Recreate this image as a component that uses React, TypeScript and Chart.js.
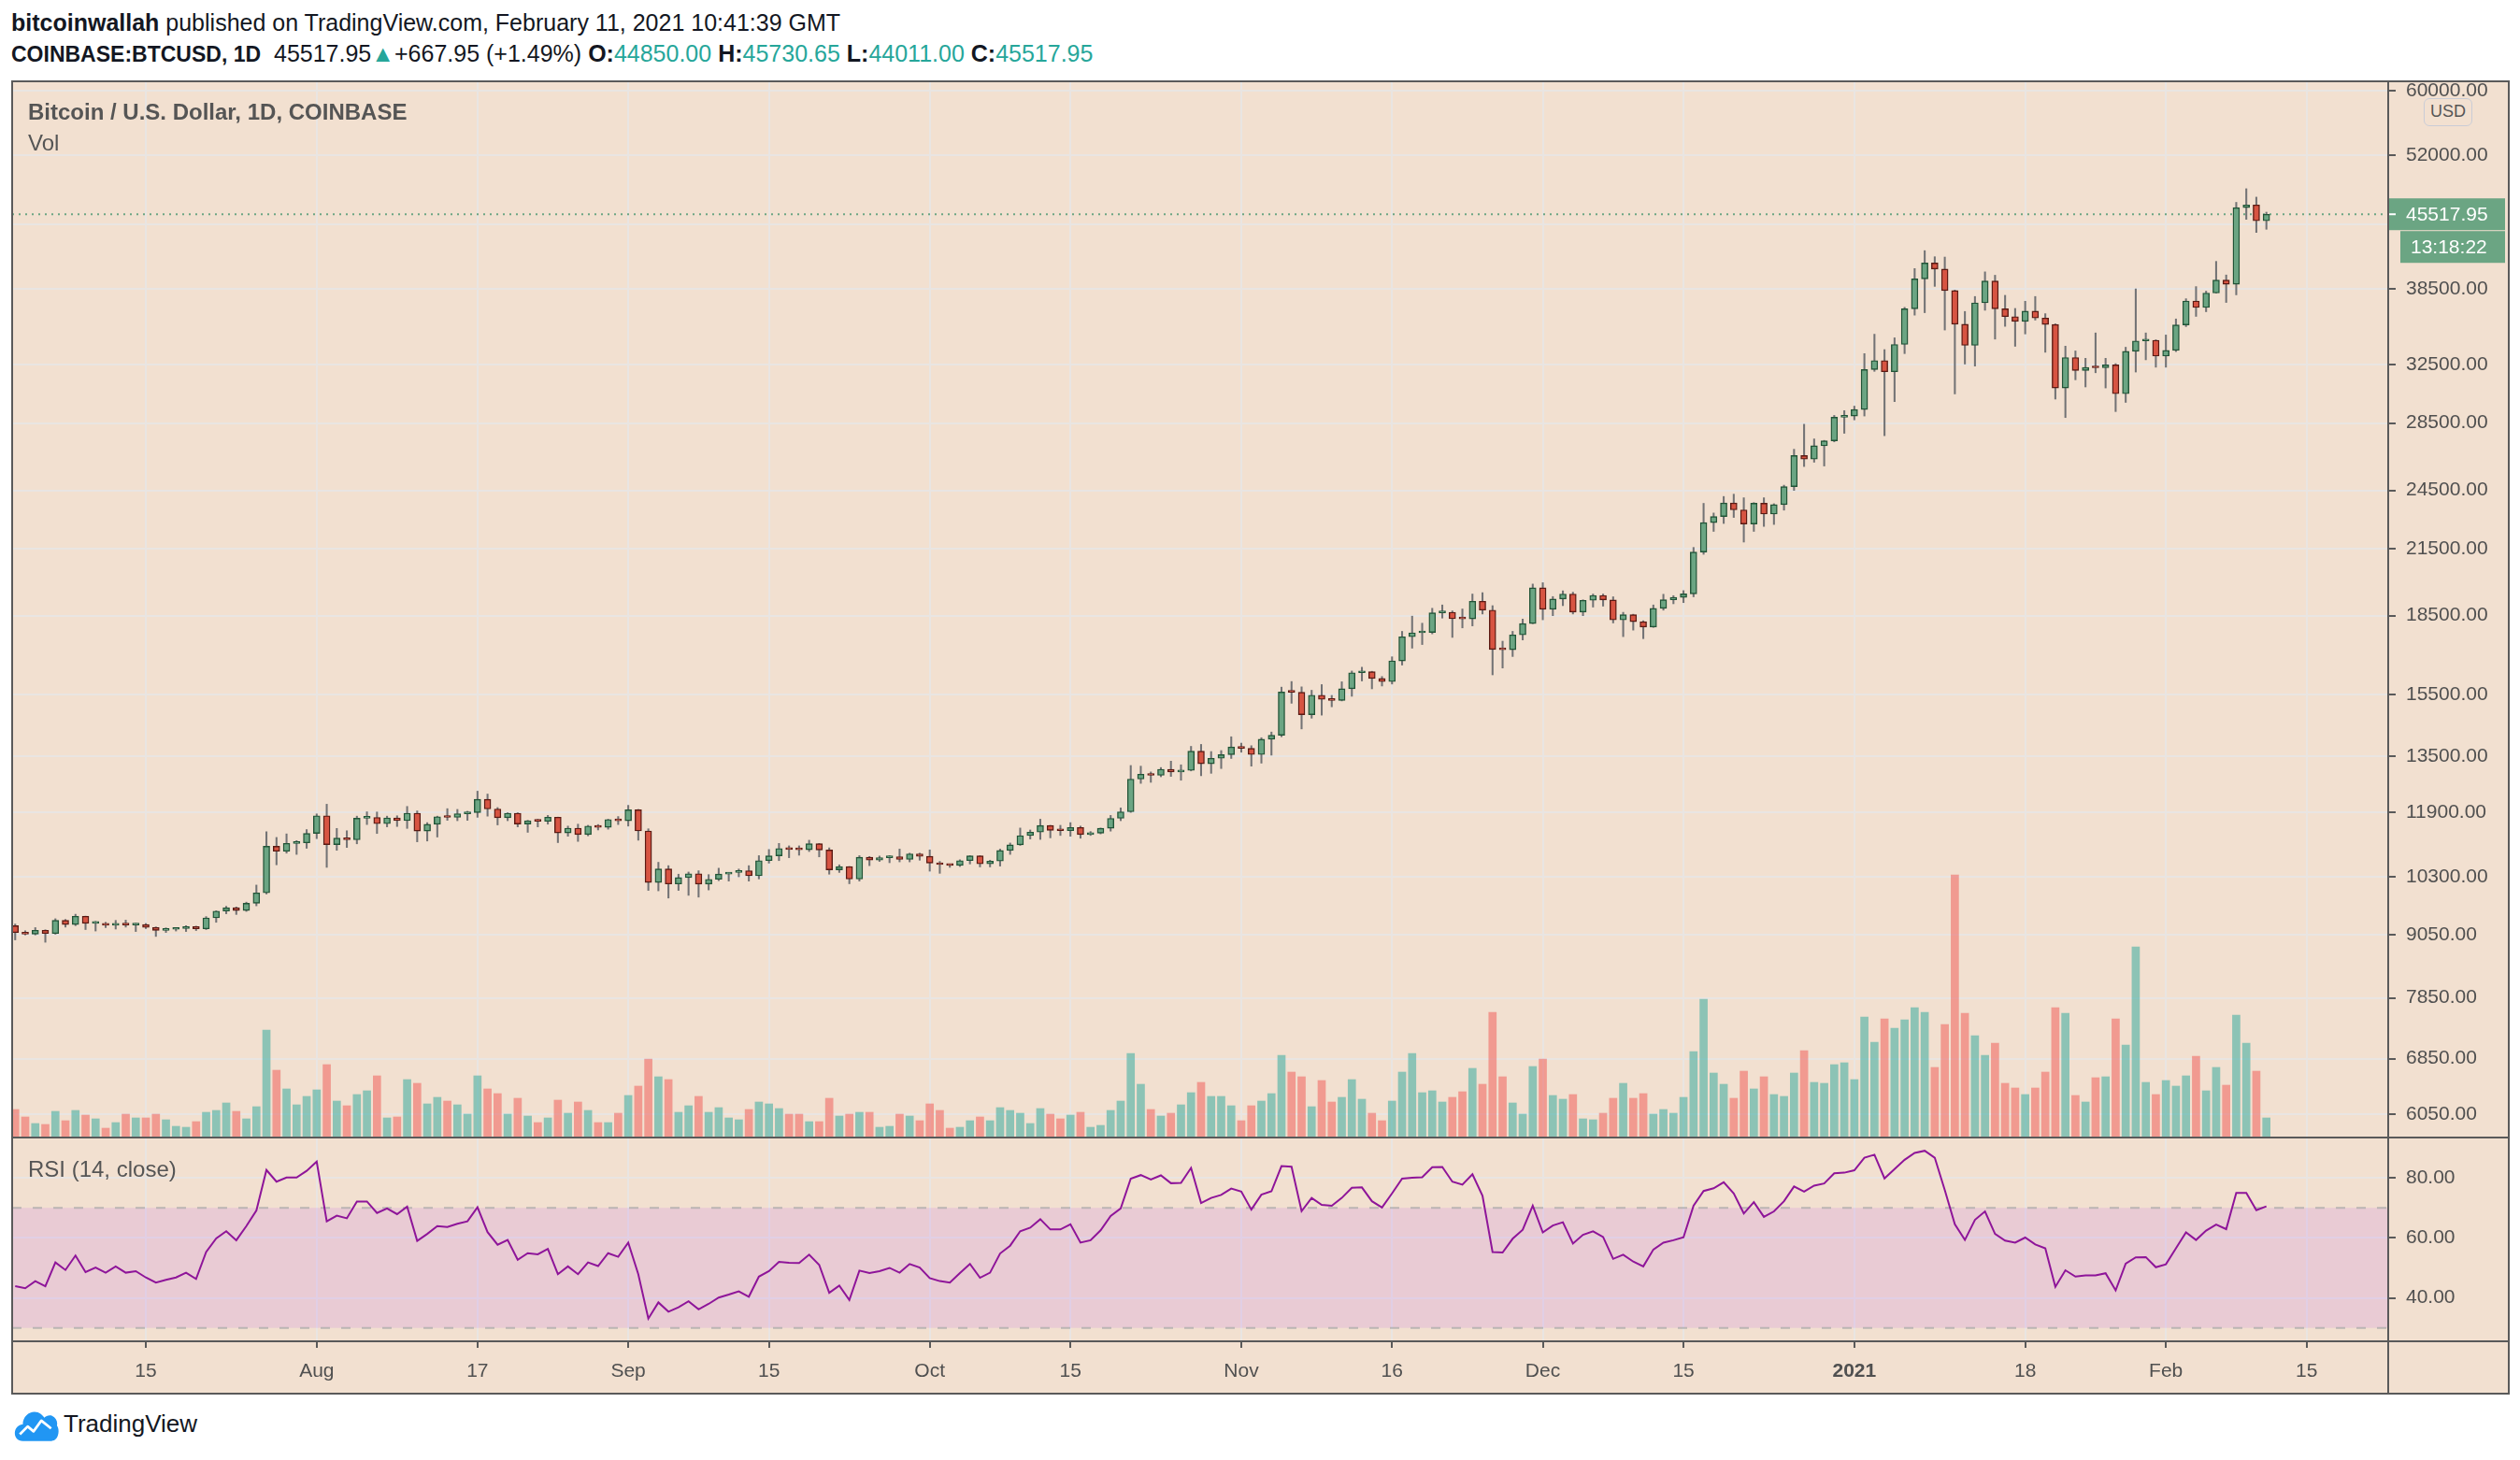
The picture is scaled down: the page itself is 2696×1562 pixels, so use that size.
import React, { useEffect, useRef } from 'react';
import { Chart, registerables } from 'chart.js';

Chart.register(...registerables);

// ---- time axis: day index, day 0 = Jul 1, 2020; first candle = Jul 2, 2020 ----
const FIRST_DAY = 1;
const X_MIN = 0.6975;
const X_MAX = 237.12;
const X_TICK_DAYS = [14, 31, 47, 62, 76, 92, 106, 123, 138, 153, 167, 184, 201, 215, 229];
const X_TICK_LABELS = ['15', 'Aug', '17', 'Sep', '15', 'Oct', '15', 'Nov', '16', 'Dec', '15', '2021', '18', 'Feb', '15'];
const YEAR_TICK = 184;

// ---- price axis ----
const PRICE_MIN = 5739;
const PRICE_MAX = 61330;
const PRICE_TICKS = [6050, 6850, 7850, 9050, 10300, 11900, 13500, 15500, 18500, 21500, 24500, 28500, 32500, 38500, 44500, 52000, 60000];
const HIDDEN_PRICE_TICK = 44500;

// ---- RSI axis ----
const RSI_MIN = 25.55;
const RSI_MAX = 93.1;
const RSI_TICKS = [40, 60, 80];
const RSI_UPPER = 70;
const RSI_LOWER = 30;

// ---- volume axis (thousand BTC) ----
const VOL_MAX = 452;

// ---- header values ----
const LAST_PRICE = 45517.95;
const LAST_PRICE_TEXT = '45517.95';
const COUNTDOWN = '13:18:22';
const CHANGE_TEXT = '+667.95 (+1.49%)';
const O_TEXT = '44850.00';
const H_TEXT = '45730.65';
const L_TEXT = '44011.00';
const C_TEXT = '45517.95';

// ---- daily OHLC (Jul 2, 2020 .. Feb 11, 2021) ----
const OPEN = [
  // Jul
  9228, 9088, 9058, 9135, 9069, 9342, 9253, 9428, 9277, 9278, 9240, 9277, 9243, 9253, 9194, 9132, 9154, 9173, 9213, 9165, 9392, 9536, 9609, 9550, 9707, 9934, 11029, 10906, 11101, 11115,
  // Aug
  11351, 11810, 11071, 11233, 11191, 11744, 11768, 11601, 11754, 11682, 11878, 11411, 11585, 11785, 11767, 11865, 11893, 12254, 11991, 11758, 11878, 11592, 11681, 11664, 11774, 11366, 11488, 11324, 11542, 11507, 11711,
  // Sep
  11680, 11970, 11414, 10170, 10484, 10134, 10280, 10370, 10131, 10242, 10363, 10400, 10442, 10323, 10680, 10796, 10974, 10948, 10944, 11094, 10938, 10462, 10538, 10246, 10760, 10692, 10750, 10775, 10709, 10844,
  // Oct
  10784, 10623, 10585, 10565, 10680, 10796, 10602, 10669, 10925, 11064, 11296, 11384, 11555, 11429, 11420, 11505, 11322, 11358, 11483, 11742, 11916, 12823, 12965, 12931, 13108, 13031, 13075, 13654, 13271, 13437, 13546,
  // Nov
  13781, 13737, 13550, 14023, 14147, 15590, 15580, 14817, 15479, 15332, 15299, 15701, 16276, 16317, 16068, 15955, 16716, 17645, 17804, 17817, 18621, 18642, 18370, 18365, 19107, 18732, 17150, 17139, 17719, 18178,
  // Dec
  19695, 18764, 19204, 19422, 18651, 19147, 19359, 19166, 18324, 18541, 18254, 18036, 18808, 19175, 19273, 19426, 21335, 22797, 23107, 23821, 23455, 22719, 23810, 23232, 23729, 24712, 26493, 26281, 27079, 27385, 28875,
  // Jan
  28949, 29374, 32127, 32782, 31971, 33992, 36824, 39371, 40797, 40254, 38356, 35566, 33922, 37316, 39187, 36825, 36178, 35792, 36630, 36069, 35547, 30825, 33005, 32067, 32289, 32254, 32467, 30432, 33467, 34262, 34316,
  // Feb
  33114, 33538, 35510, 37473, 36926, 38144, 39266, 38904, 46196, 46481, 44850,
];
const HIGH = [
  9265, 9125, 9190, 9145, 9375, 9360, 9470, 9430, 9320, 9300, 9340, 9345, 9280, 9275, 9205, 9185, 9190, 9230, 9220, 9420, 9545, 9640, 9625, 9730, 10110, 11395, 11250, 11340, 11170, 11450,
  11860, 12120, 11480, 11420, 11800, 11915, 11910, 11800, 11810, 12060, 11940, 11630, 11800, 12000, 11980, 11930, 12480, 12400, 12030, 11890, 11890, 11690, 11720, 11820, 11775, 11540, 11590, 11560, 11580, 11720, 11790,
  12090, 11980, 11470, 10640, 10560, 10360, 10410, 10440, 10350, 10500, 10400, 10480, 10560, 10800, 10950, 11100, 11040, 11040, 11180, 11100, 10990, 10580, 10540, 10800, 10780, 10790, 10800, 10960, 10860, 10860,
  10940, 10660, 10600, 10700, 10800, 10800, 10690, 10960, 11110, 11490, 11440, 11720, 11560, 11560, 11630, 11540, 11400, 11490, 11820, 12020, 13220, 13200, 13030, 13160, 13350, 13240, 13800, 13860, 13640, 13670, 14100,
  13900, 13820, 14070, 14250, 15760, 15960, 15770, 15650, 15850, 15470, 15950, 16340, 16480, 16330, 16140, 16870, 17860, 18480, 18190, 18810, 18950, 18700, 18780, 19420, 19480, 18920, 17470, 17860, 18360, 19860,
  19920, 19310, 19560, 19500, 19170, 19420, 19420, 19300, 18640, 18560, 18290, 18950, 19410, 19350, 19570, 21560, 23800, 23290, 24170, 24295, 24100, 23840, 24100, 23780, 24790, 26870, 28420, 27500, 27410, 28990, 29300,
  29600, 33300, 34780, 33600, 34500, 36940, 40300, 41950, 41380, 41350, 38400, 36600, 37850, 40000, 39700, 37950, 36850, 37450, 37850, 36420, 35600, 33860, 33500, 32950, 34880, 32950, 32560, 33780, 38500, 34880, 34350,
  34720, 35990, 37660, 38700, 38310, 40950, 39720, 46750, 48200, 47300, 45730.65,
];
const LOW = [
  8940, 9040, 9040, 8893, 9055, 9200, 9230, 9150, 9120, 9190, 9160, 9200, 9110, 9170, 9010, 9090, 9120, 9110, 9130, 9150, 9300, 9480, 9465, 9530, 9650, 9910, 10580, 10860, 10830, 10980,
  11220, 10520, 10930, 11000, 11090, 11580, 11350, 11520, 11530, 11480, 11140, 11160, 11260, 11690, 11680, 11690, 11770, 11800, 11570, 11680, 11520, 11380, 11520, 11590, 11120, 11280, 11150, 11290, 11440, 11460, 11580,
  11540, 11180, 9990, 9980, 9820, 9990, 9880, 9840, 10000, 10210, 10200, 10300, 10200, 10250, 10620, 10680, 10750, 10810, 10900, 10770, 10360, 10400, 10140, 10200, 10560, 10660, 10630, 10650, 10650, 10690,
  10430, 10380, 10520, 10540, 10600, 10530, 10530, 10550, 10830, 11050, 11210, 11200, 11240, 11300, 11280, 11230, 11300, 11340, 11410, 11680, 11900, 12700, 12730, 12890, 12900, 12790, 13060, 12920, 12990, 13130, 13430,
  13620, 13200, 13290, 13530, 14100, 15200, 14350, 14700, 14800, 15080, 15280, 15440, 15980, 15700, 15800, 15870, 16560, 17200, 17340, 17760, 18400, 17620, 18000, 18080, 18570, 16200, 16450, 16880, 17520, 18170,
  18330, 18500, 18920, 18570, 18500, 18860, 18900, 18200, 17650, 17910, 17570, 18020, 18730, 19000, 19050, 19300, 21230, 22350, 22750, 23060, 21820, 22350, 22600, 22700, 23440, 24500, 25850, 26100, 25880, 27320, 27850,
  28700, 28950, 32000, 27700, 29900, 33300, 36300, 36500, 38720, 35110, 30420, 32530, 32380, 36700, 34400, 35400, 33850, 34800, 35900, 33400, 30070, 28850, 31400, 30900, 31900, 30830, 29240, 29850, 31950, 32840, 32300,
  32300, 33450, 35380, 36200, 36580, 38140, 37350, 37990, 45000, 43700, 44011,
];
const CLOSE = [
  9088, 9058, 9135, 9069, 9342, 9253, 9428, 9277, 9278, 9240, 9277, 9243, 9253, 9194, 9132, 9154, 9173, 9213, 9165, 9392, 9536, 9609, 9550, 9707, 9934, 11029, 10906, 11101, 11115, 11351,
  11810, 11071, 11233, 11191, 11744, 11768, 11601, 11754, 11682, 11878, 11411, 11585, 11785, 11767, 11865, 11893, 12254, 11991, 11758, 11878, 11592, 11681, 11664, 11774, 11366, 11488, 11324, 11542, 11507, 11711, 11680,
  11970, 11414, 10170, 10484, 10134, 10280, 10370, 10131, 10242, 10363, 10400, 10442, 10323, 10680, 10796, 10974, 10948, 10944, 11094, 10938, 10462, 10538, 10246, 10760, 10692, 10750, 10775, 10709, 10844, 10784,
  10623, 10585, 10565, 10680, 10796, 10602, 10669, 10925, 11064, 11296, 11384, 11555, 11429, 11420, 11505, 11322, 11358, 11483, 11742, 11916, 12823, 12965, 12931, 13108, 13031, 13075, 13654, 13271, 13437, 13546, 13781,
  13737, 13550, 14023, 14147, 15590, 15580, 14817, 15479, 15332, 15299, 15701, 16276, 16317, 16068, 15955, 16716, 17645, 17804, 17817, 18621, 18642, 18370, 18365, 19107, 18732, 17150, 17139, 17719, 18178, 19695,
  18764, 19204, 19422, 18651, 19147, 19359, 19166, 18324, 18541, 18254, 18036, 18808, 19175, 19273, 19426, 21335, 22797, 23107, 23821, 23455, 22719, 23810, 23232, 23729, 24712, 26493, 26281, 27079, 27385, 28875, 28949,
  29374, 32127, 32782, 31971, 33992, 36824, 39371, 40797, 40254, 38356, 35566, 33922, 37316, 39187, 36825, 36178, 35792, 36630, 36069, 35547, 30825, 33005, 32067, 32289, 32254, 32467, 30432, 33467, 34262, 34316, 33114,
  33538, 35510, 37473, 36926, 38144, 39266, 38904, 46196, 46481, 44850, 45517.95,
];
// daily volume, thousand BTC
const VOLUME = [
  12, 8.8, 6, 5.6, 11.2, 7.2, 11.6, 9.6, 8, 4, 6.4, 10, 8.4, 8.4, 10, 7.6, 4.8, 4.4, 6.8, 10.8, 11.6, 14.8, 11.2, 8, 13.2, 46, 28.8, 20.8, 14, 17.6,
  20.4, 31.2, 15.6, 13.6, 18.4, 20, 26.4, 8.4, 8.8, 24.8, 23.2, 14.4, 17.2, 15.6, 14, 10, 26.4, 20.8, 18.8, 10, 16.8, 9.2, 6.4, 8.4, 16, 10.4, 15.2, 11.6, 6.4, 6.4, 10.4,
  18, 22, 33.6, 26, 24.8, 10.8, 13.6, 17.6, 10.8, 12.8, 8.4, 7.6, 12, 15.2, 14.4, 12.4, 10, 10, 6.8, 6.8, 16.8, 9.2, 10, 10.8, 10.8, 4.4, 4.8, 10, 9.2, 7.2,
  14.4, 11.6, 4, 4.4, 7.2, 8.8, 7.2, 12.8, 11.6, 10.4, 6, 12.4, 10, 8, 9.6, 10.8, 4.4, 5.2, 11.6, 15.6, 36, 22.8, 12, 9.2, 10.4, 14, 19.2, 23.6, 17.6, 17.6, 13.6,
  7.2, 13.6, 15.6, 18.8, 35.2, 28, 26, 13.2, 24.4, 15.2, 17.2, 24.8, 16.4, 10.4, 7.2, 15.6, 28, 36, 19.2, 20, 15.2, 17.2, 19.6, 29.6, 22.8, 53.6, 26, 14.8, 10, 30.4,
  33.6, 18, 16.4, 18.4, 8, 7.6, 10.4, 16.8, 23.2, 16.8, 18.8, 10, 12, 10.4, 17.2, 36.8, 59.2, 27.6, 22.8, 16.8, 28.4, 20.8, 26, 18.4, 17.6, 27.6, 37.2, 23.6, 23.2, 31.2, 32,
  24.8, 51.6, 40.8, 50.8, 46.8, 50.4, 55.6, 53.6, 30, 48.4, 112.4, 53.2, 43.6, 35.2, 40.4, 23.2, 21.2, 18.4, 21.2, 28, 55.6, 53.2, 18, 15.2, 25.6, 26, 50.8, 39.6, 81.6, 23.6, 18.4,
  24.4, 22, 26.4, 34.8, 20, 30, 22.4, 52.4, 40.4, 28.4, 8.4,
];
// RSI (14, close)
const RSI = [
  43.9, 43.2, 45.6, 43.9, 51.8, 49.3, 54.1, 48.6, 50.1, 48.4, 50.5, 48.4, 48.9, 46.8, 45.1, 46.0, 46.8, 48.4, 46.3, 55.3, 59.8, 62.2, 59.2, 63.9, 69.1, 82.6, 78.7, 80.1, 80.1, 82.3,
  85.4, 65.5, 67.4, 66.5, 72.1, 72.1, 68.3, 69.8, 67.9, 70.4, 59.0, 61.3, 63.9, 63.6, 64.7, 65.5, 70.2, 61.9, 57.7, 59.3, 52.7, 54.9, 54.5, 56.3, 47.9, 50.5, 47.9, 51.8, 50.6, 54.9, 53.7,
  58.4, 47.9, 33.1, 38.5, 35.4, 36.9, 38.9, 36.2, 38.0, 40.1, 41.1, 42.2, 40.4, 47.1, 48.9, 52.0, 51.7, 51.6, 54.4, 51.0, 41.7, 44.1, 39.3, 49.1, 48.3, 48.9, 50.0, 48.4, 51.3, 50.1,
  46.6, 45.6, 45.1, 48.3, 51.3, 46.7, 48.4, 54.8, 57.4, 62.2, 63.4, 66.2, 62.8, 62.8, 64.5, 58.4, 59.2, 62.5, 67.3, 69.8, 79.7, 80.9, 79.4, 80.8, 78.2, 78.3, 83.3, 71.6, 73.3, 74.3, 76.4,
  75.4, 69.4, 74.4, 75.5, 83.9, 83.7, 68.9, 73.3, 71.0, 70.7, 73.3, 76.7, 76.8, 72.2, 70.1, 74.8, 79.7, 80.0, 80.2, 83.5, 83.6, 78.7, 77.7, 81.2, 74.0, 55.3, 55.1, 59.7, 62.7, 70.7,
  61.8, 64.1, 65.2, 58.1, 61.0, 62.2, 60.3, 53.0, 54.4, 52.1, 50.5, 56.1, 58.4, 59.2, 60.2, 70.7, 75.6, 76.5, 78.5, 74.8, 68.1, 71.9, 67.0, 68.8, 72.2, 77.1, 75.4, 77.4, 78.1, 81.5, 81.7,
  82.5, 86.7, 87.7, 79.8, 82.9, 86.0, 88.3, 89.0, 86.7, 75.9, 64.5, 59.3, 66.0, 68.8, 61.3, 59.1, 58.4, 60.1, 57.8, 56.5, 43.7, 49.2, 47.1, 47.5, 47.5, 48.2, 42.5, 51.4, 53.5, 53.6, 50.2,
  51.2, 56.5, 61.8, 59.3, 62.4, 64.4, 62.9, 75.0, 75.0, 69.2, 70.5,
];

// ---- styles ----
const BG = 'rgb(242,224,208)';
const GRID = 'rgb(233,229,226)';
const FRAME = '#5a5a5a';
const AXIS_TEXT = '#505050';
const LEGEND_TEXT = '#555555';
const TEAL = '#26a69a';
const UP_BODY = '#6ba583';
const UP_BORDER = '#225437';
const DOWN_BODY = '#d75442';
const DOWN_BORDER = '#5b1a13';
const WICK = '#737375';
const VOL_UP = 'rgba(38,166,154,0.5)';
const VOL_DOWN = 'rgba(239,83,80,0.5)';
const RSI_COLOR = '#8e1599';
const FONT = '"Liberation Sans", Arial, sans-serif';

Chart.defaults.font.family = FONT;

const PLOT_LEFT = 13;
const MAIN_TOP = 87;
const MAIN_H = 1130;
const RSI_TOP = 1218;
const RSI_CANVAS_H = 272;
const CANVAS_W = 2670;
const AXIS_W = 128;

const xTicks = () => X_TICK_DAYS.map((v) => ({ value: v }));

const priceLinePlugin = {
  id: 'priceLine',
  beforeDatasetsDraw(chart: any) {
    const { ctx, chartArea, scales } = chart;
    const y = scales.y.getPixelForValue(LAST_PRICE);
    ctx.save();
    ctx.strokeStyle = UP_BODY;
    ctx.lineWidth = 2;
    ctx.setLineDash([2, 5]);
    ctx.beginPath();
    ctx.moveTo(chartArea.left, y);
    ctx.lineTo(chartArea.right, y);
    ctx.stroke();
    ctx.restore();
  },
  afterDraw(chart: any) {
    const { ctx, chartArea, scales } = chart;
    const y = scales.y.getPixelForValue(LAST_PRICE);
    const r = chartArea.right;
    ctx.save();
    ctx.fillStyle = UP_BODY;
    ctx.fillRect(r, y - 17, 125, 34);
    ctx.fillRect(r + 13, y + 18, 112, 34);
    ctx.fillStyle = '#ffffff';
    ctx.fillRect(r, y - 1, 8, 2);
    ctx.font = '21px ' + FONT;
    ctx.textBaseline = 'middle';
    ctx.textAlign = 'left';
    ctx.fillText(LAST_PRICE_TEXT, r + 19, y + 1);
    ctx.fillText(COUNTDOWN, r + 24, y + 36);
    ctx.restore();
  },
};

const rsiBandPlugin = {
  id: 'rsiBand',
  beforeDatasetsDraw(chart: any) {
    const { ctx, chartArea, scales } = chart;
    const yU = scales.y.getPixelForValue(RSI_UPPER);
    const yL = scales.y.getPixelForValue(RSI_LOWER);
    ctx.save();
    ctx.fillStyle = 'rgba(153,21,255,0.1)';
    ctx.fillRect(chartArea.left, yU, chartArea.right - chartArea.left, yL - yU);
    ctx.strokeStyle = 'rgba(170,170,170,0.75)';
    ctx.lineWidth = 2;
    ctx.setLineDash([10, 12]);
    [yU, yL].forEach((yy) => {
      ctx.beginPath();
      ctx.moveTo(chartArea.left, yy);
      ctx.lineTo(chartArea.right, yy);
      ctx.stroke();
    });
    ctx.restore();
  },
};

export default function App() {
  const mainRef = useRef<HTMLCanvasElement>(null);
  const rsiRef = useRef<HTMLCanvasElement>(null);

  useEffect(() => {
    const up = CLOSE.map((c, i) => c >= OPEN[i]);
    const wickData = OPEN.map((_, i) => ({ x: FIRST_DAY + i, y: [LOW[i], HIGH[i]] }));
    const bodyData = OPEN.map((o, i) => ({ x: FIRST_DAY + i, y: [o, CLOSE[i]] }));
    const volData = VOLUME.map((v, i) => ({ x: FIRST_DAY + i, y: v }));
    const rsiData = RSI.map((v, i) => ({ x: FIRST_DAY + i, y: v }));

    const mainChart = new Chart(mainRef.current as HTMLCanvasElement, {
      type: 'bar',
      data: {
        datasets: [
          {
            label: 'Vol',
            data: volData as any,
            yAxisID: 'vol',
            backgroundColor: up.map((u) => (u ? VOL_UP : VOL_DOWN)),
            barThickness: 8,
            grouped: false,
            order: 3,
          } as any,
          {
            label: 'Wick',
            data: wickData as any,
            yAxisID: 'y',
            backgroundColor: WICK,
            barThickness: 1.4,
            grouped: false,
            order: 2,
          } as any,
          {
            label: 'Body',
            data: bodyData as any,
            yAxisID: 'y',
            backgroundColor: up.map((u) => (u ? UP_BODY : DOWN_BODY)),
            borderColor: up.map((u) => (u ? UP_BORDER : DOWN_BORDER)),
            borderWidth: 1.4,
            borderSkipped: false,
            barThickness: 7,
            minBarLength: 2,
            grouped: false,
            order: 1,
          } as any,
        ],
      },
      options: {
        responsive: false,
        animation: false,
        devicePixelRatio: 1,
        layout: { padding: 0 },
        plugins: { legend: { display: false }, tooltip: { enabled: false } },
        scales: {
          x: {
            type: 'linear',
            min: X_MIN,
            max: X_MAX,
            offset: false,
            grid: { color: GRID, lineWidth: 2, drawTicks: false, offset: false },
            border: { display: false },
            ticks: { display: false },
            afterBuildTicks: (s: any) => { s.ticks = xTicks(); },
            afterFit: (s: any) => { s.height = 0; s.paddingLeft = 0; s.paddingRight = 0; },
          } as any,
          y: {
            type: 'logarithmic',
            position: 'right',
            min: PRICE_MIN,
            max: PRICE_MAX,
            grid: { color: GRID, lineWidth: 2, drawTicks: true, tickLength: 8, tickColor: FRAME },
            border: { display: false },
            ticks: {
              color: AXIS_TEXT,
              font: { size: 21, family: FONT },
              padding: 11,
              autoSkip: false,
              callback: (v: any) => (Number(v) === HIDDEN_PRICE_TICK ? '' : Number(v).toFixed(2)),
            },
            afterBuildTicks: (s: any) => { s.ticks = PRICE_TICKS.map((v) => ({ value: v })); },
            afterFit: (s: any) => { s.width = AXIS_W; s.paddingTop = 0; s.paddingBottom = 0; },
          } as any,
          vol: {
            type: 'linear',
            display: false,
            min: 0,
            max: VOL_MAX,
          },
        },
      },
      plugins: [priceLinePlugin],
    });

    const rsiChart = new Chart(rsiRef.current as HTMLCanvasElement, {
      type: 'line',
      data: {
        datasets: [
          {
            label: 'RSI',
            data: rsiData as any,
            borderColor: RSI_COLOR,
            borderWidth: 2,
            pointRadius: 0,
            tension: 0,
            fill: false,
          },
        ],
      },
      options: {
        responsive: false,
        animation: false,
        devicePixelRatio: 1,
        layout: { padding: 0 },
        plugins: { legend: { display: false }, tooltip: { enabled: false } },
        scales: {
          x: {
            type: 'linear',
            min: X_MIN,
            max: X_MAX,
            offset: false,
            grid: { color: GRID, lineWidth: 2, drawTicks: true, tickLength: 7, tickColor: FRAME, offset: false },
            border: { display: false },
            ticks: {
              color: AXIS_TEXT,
              padding: 13,
              maxRotation: 0,
              autoSkip: false,
              font: (ctx: any) => ({
                size: 21,
                family: FONT,
                weight: ctx.tick && ctx.tick.value === YEAR_TICK ? 'bold' : 'normal',
              }),
              callback: (_v: any, i: number) => X_TICK_LABELS[i],
            },
            afterBuildTicks: (s: any) => { s.ticks = xTicks(); },
            afterFit: (s: any) => { s.height = 55; s.paddingLeft = 0; s.paddingRight = 0; },
          } as any,
          y: {
            type: 'linear',
            position: 'right',
            min: RSI_MIN,
            max: RSI_MAX,
            grid: { color: GRID, lineWidth: 2, drawTicks: true, tickLength: 8, tickColor: FRAME },
            border: { display: false },
            ticks: {
              color: AXIS_TEXT,
              font: { size: 21, family: FONT },
              padding: 11,
              autoSkip: false,
              callback: (v: any) => Number(v).toFixed(2),
            },
            afterBuildTicks: (s: any) => { s.ticks = RSI_TICKS.map((v) => ({ value: v })); },
            afterFit: (s: any) => { s.width = AXIS_W; s.paddingTop = 0; s.paddingBottom = 0; },
          } as any,
        },
      },
      plugins: [rsiBandPlugin],
    });

    return () => {
      mainChart.destroy();
      rsiChart.destroy();
    };
  }, []);

  const abs = (o: any) => ({ position: 'absolute' as const, ...o });
  const line = (l: number, t: number, w: number, h: number) => (
    <div style={abs({ left: l, top: t, width: w, height: h, background: FRAME, zIndex: 5 })} />
  );

  return (
    <div style={abs({ left: 0, top: 0, width: 2696, height: 1562, background: '#ffffff', overflow: 'hidden', fontFamily: FONT })}>
      {/* header */}
      <div style={abs({ left: 12, top: 10, fontSize: 25, lineHeight: '28px', color: '#131722', whiteSpace: 'nowrap' })}>
        <b>bitcoinwallah</b> published on TradingView.com, February 11, 2021 10:41:39 GMT
      </div>
      <div style={abs({ left: 12, top: 43, fontSize: 25, lineHeight: '28px', color: '#131722', whiteSpace: 'nowrap' })}>
        <b style={{ fontSize: 23 }}>COINBASE:BTCUSD, 1D</b>&nbsp; {LAST_PRICE_TEXT}<span style={{ color: TEAL }}>▲</span>{CHANGE_TEXT}{' '}
        <b>O:</b><span style={{ color: TEAL }}>{O_TEXT}</span>{' '}
        <b>H:</b><span style={{ color: TEAL }}>{H_TEXT}</span>{' '}
        <b>L:</b><span style={{ color: TEAL }}>{L_TEXT}</span>{' '}
        <b>C:</b><span style={{ color: TEAL }}>{C_TEXT}</span>
      </div>

      {/* chart background */}
      <div style={abs({ left: 12, top: 86, width: 2673, height: 1406, background: BG })} />

      <canvas
        ref={mainRef}
        width={CANVAS_W}
        height={MAIN_H}
        style={abs({ left: PLOT_LEFT, top: MAIN_TOP, width: CANVAS_W, height: MAIN_H, display: 'block' })}
      />
      <canvas
        ref={rsiRef}
        width={CANVAS_W}
        height={RSI_CANVAS_H}
        style={abs({ left: PLOT_LEFT, top: RSI_TOP, width: CANVAS_W, height: RSI_CANVAS_H, display: 'block' })}
      />

      {/* frame and separators */}
      <div style={abs({ left: 12, top: 86, width: 2673, height: 1406, border: `2px solid ${FRAME}`, boxSizing: 'border-box', zIndex: 5 })} />
      {line(12, 1216, 2673, 2)}
      {line(12, 1434, 2673, 2)}
      {line(2554, 86, 2, 1406)}

      {/* legends */}
      <div style={abs({ left: 30, top: 106, fontSize: 24, lineHeight: '28px', fontWeight: 'bold', color: LEGEND_TEXT, whiteSpace: 'nowrap', zIndex: 6 })}>
        Bitcoin / U.S. Dollar, 1D, COINBASE
      </div>
      <div style={abs({ left: 30, top: 139, fontSize: 24, lineHeight: '28px', color: LEGEND_TEXT, zIndex: 6 })}>Vol</div>
      <div style={abs({ left: 30, top: 1237, fontSize: 24, lineHeight: '28px', color: LEGEND_TEXT, whiteSpace: 'nowrap', zIndex: 6 })}>
        RSI (14, close)
      </div>

      {/* currency button */}
      <div
        style={abs({
          left: 2593, top: 105, width: 52, height: 30, boxSizing: 'border-box',
          border: '1.5px solid #c9ccd6', borderRadius: 6, background: BG, color: LEGEND_TEXT,
          fontSize: 18, lineHeight: '27px', textAlign: 'center', zIndex: 6,
        })}
      >
        USD
      </div>

      {/* footer */}
      <svg style={abs({ left: 15, top: 1502 })} width={48} height={42} viewBox="0 0 46 40">
        <path
          d="M9 38 C3 38 0 33 1 28 C2 23 6 21 9 21 C9 13 15 8 21 8 C26 8 29 11 31 14 C33 12 36 11 39 12 C43 14 45 18 44 22 C46 25 46 29 45 32 C44 36 41 38 37 38 Z"
          fill="#2196f3"
        />
        <path d="M6 31 L14 23 L20 28 L28 17 L38 25" stroke="#ffffff" strokeWidth={2.6} fill="none" strokeLinejoin="round" />
      </svg>
      <div style={abs({ left: 68, top: 1509, fontSize: 26, lineHeight: '28px', color: '#131722' })}>TradingView</div>
    </div>
  );
}
